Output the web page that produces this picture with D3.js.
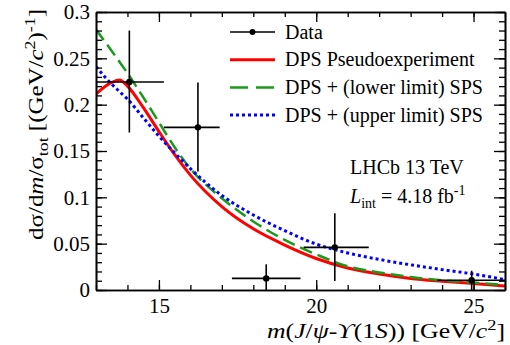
<!DOCTYPE html>
<html>
<head>
<meta charset="utf-8">
<script src="https://cdn.jsdelivr.net/npm/d3@7"></script>
<style>
  body { margin: 0; background: #fff; }
  text { font-family: "Liberation Serif", "Times New Roman", serif; fill: #000; }
</style>
</head>
<body>
<svg id="chart" width="510" height="345"></svg>
<script>
// data points (bin centres, values, error bar ends)
const dataX = [14.06, 16.24, 18.41, 20.59, 24.94];
const dataY = [0.2245, 0.1755, 0.0125, 0.046, 0.0105];
const xLow = [13.0, 15.16, 17.32, 19.6, 23.85];
const xHigh = [15.16, 16.93, 19.5, 21.67, 26.3];
const yLow = [0.170, 0.128, 0.0, 0.0097, 0.0];
const yHigh = [0.280, 0.224, 0.0277, 0.0828, 0.0208];

// model curves
const curveX = [13, 13.5, 13.75, 14, 14.5, 15, 15.5, 16, 17, 18, 19, 20, 21, 22, 23, 24, 25, 26];
const dpsPseudo = [0.2115, 0.224, 0.2266, 0.220, 0.197, 0.171, 0.146, 0.124, 0.090, 0.066, 0.0485, 0.034, 0.0237, 0.0172, 0.0125, 0.0095, 0.007, 0.0043];
const dpsLower = [0.281, 0.258, 0.246, 0.234, 0.208, 0.181, 0.154, 0.131, 0.099, 0.074, 0.054, 0.0385, 0.0255, 0.019, 0.014, 0.0105, 0.0081, 0.0054];
const dpsUpper = [0.241, 0.222, 0.214, 0.206, 0.186, 0.166, 0.148, 0.131, 0.102, 0.081, 0.064, 0.0495, 0.040, 0.033, 0.0272, 0.022, 0.0172, 0.0112];

const yTicks = [0, 0.05, 0.1, 0.15, 0.2, 0.25, 0.3];
const xTicks = [15, 20, 25];

const width = 510;
const height = 345;
const svg = d3.select('#chart');

const x = d3.scaleLinear().domain([13, 26]).range([96, 505]);
const y = d3.scaleLinear().domain([0, 0.3]).range([290, 12]);

svg.append('defs').append('clipPath').attr('id', 'plot')
  .append('rect')
  .attr('x', x(13)).attr('y', y(0.3))
  .attr('width', x(26) - x(13)).attr('height', y(0) - y(0.3));

const plot = svg.append('g').attr('clip-path', 'url(#plot)');

const line = d3.line()
  .x((d, i) => x(curveX[i]))
  .y(d => y(d))
  .curve(d3.curveMonotoneX);

plot.append('path').datum(dpsPseudo)
  .attr('d', line).attr('fill', 'none')
  .attr('stroke', '#ff0000').attr('stroke-width', 3);

plot.append('path').datum(dpsLower)
  .attr('d', line).attr('fill', 'none')
  .attr('stroke', '#1a9a1a').attr('stroke-width', 2.5)
  .attr('stroke-dasharray', '13,6');

plot.append('path').datum(dpsUpper)
  .attr('d', line).attr('fill', 'none')
  .attr('stroke', '#0000ff').attr('stroke-width', 3)
  .attr('stroke-dasharray', '3,3');

// data with error bars
const pts = plot.append('g').attr('stroke', '#000').attr('stroke-width', 1.6);
pts.selectAll('line.xe').data(dataX).join('line')
  .attr('x1', (d, i) => x(xLow[i])).attr('x2', (d, i) => x(xHigh[i]))
  .attr('y1', (d, i) => y(dataY[i])).attr('y2', (d, i) => y(dataY[i]));
pts.selectAll('line.ye').data(dataX).join('line')
  .attr('x1', d => x(d)).attr('x2', d => x(d))
  .attr('y1', (d, i) => y(yLow[i])).attr('y2', (d, i) => y(yHigh[i]));
plot.append('g').selectAll('circle').data(dataX).join('circle')
  .attr('cx', d => x(d)).attr('cy', (d, i) => y(dataY[i]))
  .attr('r', 3.2).attr('fill', '#000');

// frame and inward ticks
const minorX = d3.range(13, 26.01, 1);
const minorY = d3.range(0, 0.3001, 0.01);

function axisStyle(g) {
  g.select('.domain').attr('stroke-width', 1.6);
  g.selectAll('.tick line').attr('stroke-width', 1.3);
  g.selectAll('.tick text')
    .style('font-family', '"Liberation Serif", "Times New Roman", serif')
    .style('font-size', '21px').attr('fill', '#000');
}

svg.append('g').attr('transform', `translate(0,${y(0)})`)
  .call(d3.axisBottom(x).tickValues(minorX).tickSize(-5).tickFormat('').tickSizeOuter(0))
  .call(axisStyle);
svg.append('g').attr('transform', `translate(0,${y(0)})`)
  .call(d3.axisBottom(x).tickValues(xTicks).tickSize(-10).tickPadding(8).tickFormat(d3.format('d')).tickSizeOuter(0))
  .call(axisStyle)
  .call(g => g.selectAll('.tick text').attr('dy', '0.71em'));
svg.append('g').attr('transform', `translate(0,${y(0.3)})`)
  .call(d3.axisTop(x).tickValues(minorX).tickSize(-5).tickFormat('').tickSizeOuter(0))
  .call(axisStyle);
svg.append('g').attr('transform', `translate(0,${y(0.3)})`)
  .call(d3.axisTop(x).tickValues(xTicks).tickSize(-10).tickFormat('').tickSizeOuter(0))
  .call(axisStyle);

svg.append('g').attr('transform', `translate(${x(13)},0)`)
  .call(d3.axisLeft(y).tickValues(minorY).tickSize(-6).tickFormat('').tickSizeOuter(0))
  .call(axisStyle);
svg.append('g').attr('transform', `translate(${x(13)},0)`)
  .call(d3.axisLeft(y).tickValues(yTicks).tickSize(-11).tickPadding(6).tickFormat(d => d3.format('')(+d.toFixed(2))).tickSizeOuter(0))
  .call(axisStyle);
svg.append('g').attr('transform', `translate(${x(26)},0)`)
  .call(d3.axisRight(y).tickValues(minorY).tickSize(-6).tickFormat('').tickSizeOuter(0))
  .call(axisStyle);
svg.append('g').attr('transform', `translate(${x(26)},0)`)
  .call(d3.axisRight(y).tickValues(yTicks).tickSize(-11).tickFormat('').tickSizeOuter(0))
  .call(axisStyle);

// axis titles (glyphs stretched wide like the original)
const xt = svg.append('text').attr('x', 505).attr('y', 338)
  .attr('text-anchor', 'end').style('font-size', '21px')
  .attr('textLength', 238).attr('lengthAdjust', 'spacingAndGlyphs');
xt.append('tspan').style('font-style', 'italic').text('m');
xt.append('tspan').text('(');
xt.append('tspan').style('font-style', 'italic').text('J');
xt.append('tspan').text('/');
xt.append('tspan').style('font-style', 'italic').text('ψ');
xt.append('tspan').text('-');
xt.append('tspan').style('font-style', 'italic').text('ϒ');
xt.append('tspan').text('(1');
xt.append('tspan').style('font-style', 'italic').text('S');
xt.append('tspan').text(')) [GeV/');
xt.append('tspan').style('font-style', 'italic').text('c');
xt.append('tspan').attr('dy', -8).style('font-size', '15px').text('2');
xt.append('tspan').attr('dy', 8).text(']');

const yt = svg.append('text').attr('transform', 'translate(43,9) rotate(-90)')
  .attr('text-anchor', 'end').style('font-size', '21px')
  .attr('textLength', 231).attr('lengthAdjust', 'spacingAndGlyphs');
yt.append('tspan').text('dσ/d');
yt.append('tspan').style('font-style', 'italic').text('m');
yt.append('tspan').text('/σ');
yt.append('tspan').attr('dy', 5).style('font-size', '15px').text('tot');
yt.append('tspan').attr('dy', -5).text(' [(GeV/');
yt.append('tspan').style('font-style', 'italic').text('c');
yt.append('tspan').attr('dy', -8).style('font-size', '15px').text('2');
yt.append('tspan').attr('dy', 8).text(')');
yt.append('tspan').attr('dy', -8).style('font-size', '15px').text('-1');
yt.append('tspan').attr('dy', 8).text(']');

// legend
const legendNames = ['Data', 'DPS Pseudoexperiment', 'DPS + (lower limit) SPS', 'DPS + (upper limit) SPS'];
const legendColors = ['#000', '#ff0000', '#1a9a1a', '#0000ff'];
const legendDash = [null, null, '18,8', '3,3'];
const legendWidth = [1.6, 3, 2.5, 3];
const lg = svg.append('g').selectAll('g').data(legendNames).join('g')
  .attr('transform', (d, i) => `translate(230,${32 + i * 27.7})`);
lg.append('line').attr('x1', 0).attr('x2', 45)
  .attr('stroke', (d, i) => legendColors[i])
  .attr('stroke-width', (d, i) => legendWidth[i])
  .attr('stroke-dasharray', (d, i) => legendDash[i]);
lg.filter((d, i) => i === 0).append('circle').attr('cx', 22.5).attr('r', 3).attr('fill', '#000');
lg.append('text').attr('x', 55).attr('dy', '0.33em').style('font-size', '20px').text(d => d);

// experiment label
svg.append('text').attr('x', 350).attr('y', 174).style('font-size', '20px').text('LHCb 13 TeV');
const lum = svg.append('text').attr('x', 350).attr('y', 203).style('font-size', '20px');
lum.append('tspan').style('font-style', 'italic').text('L');
lum.append('tspan').attr('dy', 5).style('font-size', '14px').text('int');
lum.append('tspan').attr('dy', -5).text(' = 4.18 fb');
lum.append('tspan').attr('dy', -8).style('font-size', '14px').text('-1');
</script>
</body>
</html>
